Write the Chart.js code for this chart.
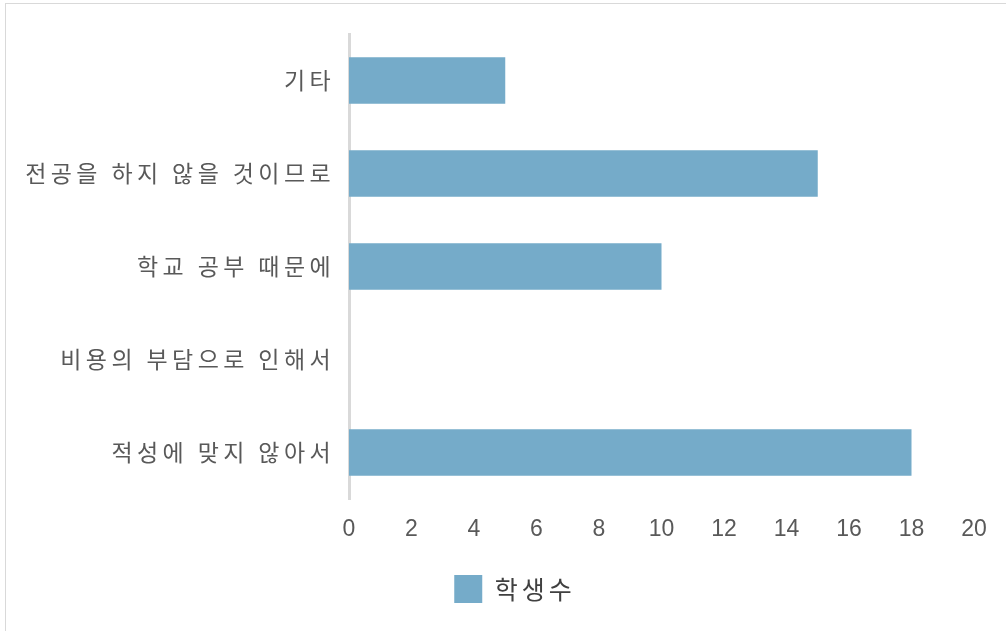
<!DOCTYPE html>
<html lang="ko">
<head>
<meta charset="utf-8">
<title>학생수</title>
<script src="https://cdn.jsdelivr.net/npm/chart.js@4/dist/chart.umd.min.js"></script>
<style>
  html, body { margin: 0; padding: 0; background: #fff; overflow: hidden; }
  #frame {
    position: absolute; left: 5px; top: 3px;
    width: 1100px; height: 700px;
    border: 1px solid #d9d9d9;
    box-sizing: border-box;
  }
  #wrap { position: absolute; left: 0; top: 0; width: 1006px; height: 631px; }
</style>
</head>
<body>
<div id="frame"></div>
<div id="wrap"><canvas id="chartSebep" width="1006" height="631"></canvas></div>
<script>
// ===============================
// VERİLER
// ===============================
const kategoriler = [
  "기타",
  "전공을 하지 않을 것이므로",
  "학교 공부 때문에",
  "비용의 부담으로 인해서",
  "적성에 맞지 않아서"
];
const ogrenciSayisi = [5, 15, 10, 0, 18];
const seriAdi = "학생수";
const eksenMin = 0;
const eksenMax = 20;
const eksenAdim = 2;

// ===============================
// STİL
// ===============================
const barRenk    = "#75abc9";
const yaziRenk   = "#595959";
const cizgiRenk  = "#d9d9d9";
const sayiAile   = "'Liberation Sans', Arial, sans-serif";
const hangulAile = "'Noto Sans CJK KR', sans-serif";

// ===============================
// YARDIMCI
// ===============================
// çizim fonksiyonunu harf aralığı ile sarar (hangul etiketler için)
function harfAraligiIle(hedef, fnAdi, aralik) {
  if (hedef.__aralikli) return;
  const asil = hedef[fnAdi];
  hedef[fnAdi] = function (...args) {
    const ctx = this.ctx;
    ctx.save();
    ctx.letterSpacing = aralik;
    asil.apply(this, args);
    ctx.restore();
  };
  hedef.__aralikli = true;
}

// legend: harf aralığı + biraz sağa kaydırma
const legendAyar = {
  id: "legendAyar",
  afterLayout(chart) {
    const lg = chart.legend;
    if (!lg) return;
    lg.left += 22;
    lg.right += 22;
    harfAraligiIle(lg, "draw", "4px");
  }
};

// ===============================
// GRAFİK
// ===============================
const chartSebep = new Chart(document.getElementById("chartSebep"), {
  type: "bar",
  data: {
    labels: kategoriler,
    datasets: [{
      label: seriAdi,
      data: ogrenciSayisi,
      backgroundColor: barRenk,
      borderWidth: 0,
      barPercentage: 0.5,
      categoryPercentage: 1
    }]
  },
  plugins: [legendAyar],
  options: {
    indexAxis: "y",
    responsive: false,
    animation: false,
    layout: { padding: { top: 34, right: 32, bottom: 18, left: 0 } },
    plugins: {
      tooltip: { enabled: false },
      legend: {
        position: "bottom",
        labels: {
          boxWidth: 28,
          boxHeight: 28,
          padding: 12,
          color: "#404040",
          font: { family: hangulAile, size: 25 }
        }
      }
    },
    scales: {
      x: {
        min: eksenMin,
        max: eksenMax,
        grid: { display: false, drawTicks: false },
        border: { display: false },
        ticks: {
          stepSize: eksenAdim,
          padding: 17,
          color: yaziRenk,
          font: { family: sayiAile, size: 23 }
        },
        afterFit: scale => { scale.height = 64; }
      },
      y: {
        grid: { display: false, drawTicks: false },
        border: { display: true, color: cizgiRenk, width: 3 },
        ticks: {
          padding: 14,
          color: yaziRenk,
          font: { family: hangulAile, size: 23 }
        },
        afterFit: scale => {
          scale.width = 349;
          harfAraligiIle(scale, "drawLabels", "4.4px");
        }
      }
    }
  }
});
</script>
</body>
</html>
